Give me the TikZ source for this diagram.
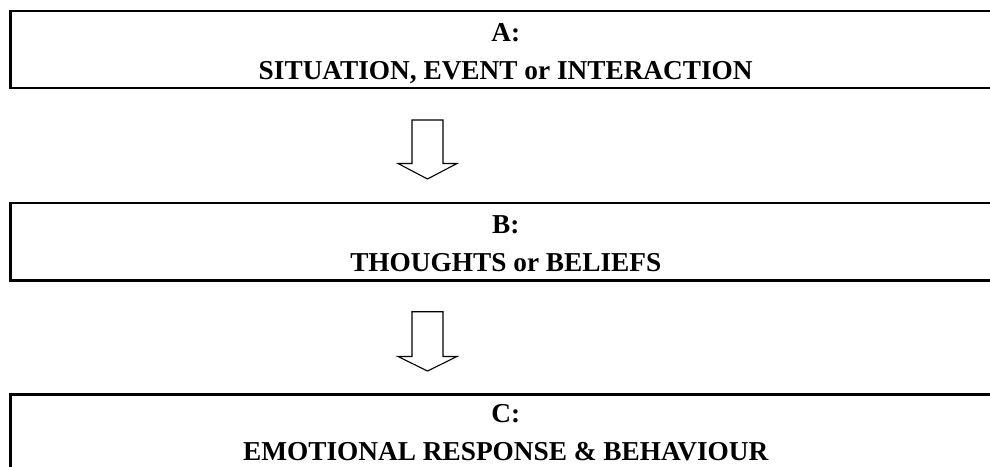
\documentclass[tikz,border=0pt]{standalone}
\usepackage{fontspec}
\setmainfont{Liberation Serif}
\begin{document}
\begin{tikzpicture}[x=1pt,y=-1pt,
  stage/.style={draw, line width=2.3pt, minimum width=990.5pt, minimum height=77.2pt, inner sep=0pt},
  lbl/.style={anchor=base, inner sep=0pt, font=\fontsize{27.3}{33}\selectfont\bfseries},
  blockarrow/.style={draw, line width=1.1pt, line join=miter}]
\useasboundingbox (0,0) rectangle (990,466);
\clip (0,0) rectangle (990,466);
\node[stage] (A) at (505.75,49.4) {};
\node[stage] (B) at (505.75,241.8) {};
\node[stage] (C) at (505.75,433.1) {};
\node[lbl] (A1) at (505.75,41) {A:};
\node[lbl] (A2) at (505.75,79) {SITUATION, EVENT or INTERACTION};
\node[lbl] (B1) at (505.75,233.3) {B:};
\node[lbl] (B2) at (505.75,271.5) {THOUGHTS or BELIEFS};
\node[lbl] (C1) at (505.75,422.5) {C:};
\node[lbl] (C2) at (505.75,460.5) {EMOTIONAL RESPONSE \& BEHAVIOUR};
\draw[blockarrow] (412,120) -- (443,120) -- (443,163.5) -- (457,163.5) -- (427.5,179) -- (398,163.5) -- (412,163.5) -- cycle;
\draw[blockarrow] (412,311.7) -- (443,311.7) -- (443,356.5) -- (457,356.5) -- (427.5,371) -- (398,356.5) -- (412,356.5) -- cycle;
\end{tikzpicture}
\end{document}
